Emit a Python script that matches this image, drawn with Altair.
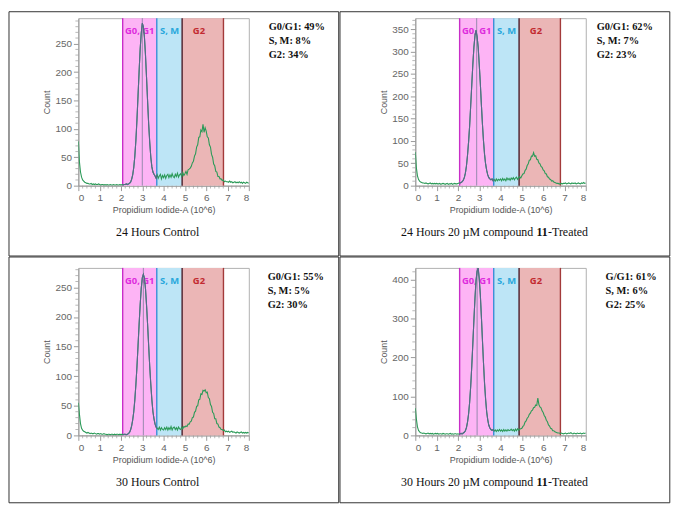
import altair as alt
import pandas as pd

# ---------------- data ----------------
x_grid = [round(i * 0.05, 2) for i in range(161)]

counts_24_control = (
    [78, 42, 24, 15, 10, 8, 6, 5, 4, 4, 3, 3, 4, 2, 3, 2, 3, 2, 2, 3]
    + [2, 1, 2, 2, 1, 2, 1, 2, 1, 1, 2, 1, 1, 2, 1, 1, 2, 1, 1, 2]
    + [1, 2, 1, 2, 2, 3, 2, 3, 4, 6, 11, 19, 32, 52, 80, 116, 158, 200, 240, 268]
    + [286, 280, 262, 230, 190, 148, 108, 76, 50, 33, 24, 20, 17, 13, 19, 13, 17, 20, 12, 18]
    + [14, 19, 13, 18, 20, 14, 19, 15, 21, 16, 14, 20, 16, 22, 15, 19, 21, 16, 23, 18]
    + [21, 25, 20, 28, 29, 31, 34, 40, 43, 52, 56, 68, 72, 85, 86, 98, 95, 108, 94, 102]
    + [96, 86, 84, 72, 68, 55, 50, 38, 35, 25, 24, 16, 16, 12, 12, 9, 10, 7, 8, 7]
    + [7, 6, 8, 6, 7, 5, 6, 7, 5, 6, 5, 7, 5, 6, 4, 6, 5, 4, 6, 5]
    + [4]
)
counts_24_treated = (
    [75, 40, 22, 14, 10, 8, 7, 6, 6, 5, 6, 5, 4, 5, 6, 4, 5, 4, 5, 4]
    + [5, 4, 4, 5, 3, 4, 5, 4, 3, 4, 5, 3, 4, 4, 5, 3, 4, 5, 4, 4]
    + [5, 6, 6, 7, 9, 12, 18, 28, 44, 68, 98, 134, 180, 226, 272, 310, 336, 348, 334, 310]
    + [272, 230, 182, 138, 100, 70, 48, 34, 24, 18, 15, 13, 15, 11, 14, 10, 15, 11, 14, 12]
    + [15, 11, 16, 12, 15, 11, 17, 13, 16, 12, 17, 14, 18, 13, 17, 19, 14, 18, 20, 17]
    + [22, 26, 27, 34, 37, 45, 49, 57, 58, 66, 66, 74, 66, 67, 59, 58, 51, 49, 43, 41]
    + [35, 33, 27, 26, 20, 19, 15, 14, 10, 11, 8, 7, 6, 5, 5, 4, 4, 5, 4, 5]
    + [5, 6, 4, 5, 6, 5, 4, 6, 5, 5, 6, 4, 5, 6, 5, 4, 6, 5, 7, 5]
    + [6]
)
counts_30_control = (
    [55, 36, 20, 12, 9, 7, 6, 5, 4, 5, 4, 3, 4, 3, 3, 4, 3, 2, 3, 3]
    + [2, 3, 2, 2, 3, 2, 2, 1, 2, 2, 1, 2, 2, 1, 2, 1, 2, 2, 1, 2]
    + [1, 2, 1, 2, 2, 1, 2, 3, 5, 9, 16, 26, 40, 60, 86, 116, 151, 187, 220, 248]
    + [266, 272, 266, 248, 220, 187, 151, 116, 86, 60, 40, 28, 19, 14, 12, 10, 14, 9, 13, 10]
    + [9, 13, 10, 14, 9, 13, 10, 15, 9, 13, 14, 10, 13, 9, 14, 11, 10, 14, 11, 15]
    + [14, 16, 15, 19, 19, 23, 24, 30, 31, 39, 41, 49, 50, 60, 61, 70, 69, 76, 75, 77]
    + [72, 73, 64, 62, 52, 49, 39, 37, 28, 28, 20, 19, 14, 13, 10, 10, 8, 9, 6, 7]
    + [6, 7, 5, 6, 7, 5, 6, 5, 4, 6, 5, 4, 5, 6, 4, 5, 4, 5, 4, 5]
    + [4]
)
counts_30_treated = (
    [70, 42, 22, 13, 9, 7, 6, 5, 6, 5, 4, 5, 6, 4, 5, 4, 5, 3, 4, 5]
    + [4, 5, 3, 4, 4, 3, 5, 4, 3, 4, 4, 3, 4, 5, 3, 4, 3, 4, 4, 3]
    + [4, 3, 4, 5, 4, 6, 8, 12, 20, 34, 55, 85, 127, 178, 236, 296, 352, 398, 421, 430]
    + [402, 362, 306, 245, 186, 133, 92, 60, 40, 26, 19, 15, 13, 15, 11, 14, 10, 14, 11, 15]
    + [11, 14, 10, 15, 11, 14, 11, 15, 12, 13, 16, 12, 15, 11, 16, 12, 17, 13, 16, 17]
    + [18, 23, 26, 34, 37, 44, 47, 54, 57, 63, 65, 71, 72, 78, 77, 96, 79, 73, 71, 63]
    + [59, 51, 47, 39, 35, 27, 24, 18, 17, 12, 12, 9, 8, 7, 6, 6, 5, 6, 5, 4]
    + [5, 6, 4, 5, 6, 5, 7, 5, 4, 6, 5, 4, 6, 5, 5, 6, 4, 5, 6, 5]
    + [6]
)
panel_counts = [counts_24_control, counts_24_treated, counts_30_control, counts_30_treated]

y_max = [295, 375, 283, 430]
y_major = [50, 50, 50, 100]
y_minor = [10, 10, 10, 20]
peak_marker = [3.0, 2.88, 3.05, 2.9]

gate_names = ["G0, G1", "S, M", "G2"]
gate_start = [2.08, 3.68, 4.87]
gate_end = [3.68, 4.87, 6.81]
gate_label_x = [2.88, 4.28, 5.66]
boundary_names = ["G0/G1 start", "S, M start", "G2 start", "G2 end"]
boundary_x = [2.08, 3.68, 4.87, 6.81]

x_major = list(range(0, 9))
x_minor = [round(i * 0.2, 1) for i in range(41) if i % 5 != 0]

stats = [
    ["G0/G1: 49%", "S, M: 8%", "G2: 34%"],
    ["G0/G1: 62%", "S, M: 7%", "G2: 23%"],
    ["G0/G1: 55%", "S, M: 5%", "G2: 30%"],
    ["G/G1: 61%", "S, M: 6%", "G2: 25%"],
]
captions = [
    ("24 Hours Control",),
    ("24 Hours 20 µM compound", "11", "-Treated"),
    ("30 Hours Control",),
    ("30 Hours 20 µM compound", "11", "-Treated"),
]

# ---------------- styles ----------------
W, H = 172, 169
gate_fills = ["#fdb4f5", "#bde5f6", "#ebb6b6"]
gate_label_colors = ["#dd2ddd", "#2aa8dc", "#c22a30"]
boundary_colors = ["#c82dc8", "#3a8ed6", "#4a1c28", "#a33a3a"]
green = "#2b9a58"
slate = "#55698a"
axis_grey = "#9a9a9a"
SERIF = "Liberation Serif"
SANS = "Liberation Sans"

stats_x = [192, 183, 191, 192]
# border box, relative to each plot area: (left, right, top, bottom)
boxes = [(-70, 262.7, -6.5, 240), (-76, 256.8, -6.5, 240),
         (-70, 262.7, -11, 237), (-76, 256.8, -11, 237)]

gates_df = pd.DataFrame({"gate": gate_names, "start": gate_start, "end": gate_end, "lx": gate_label_x})
bound_df = pd.DataFrame({"b": boundary_names, "bx": boundary_x})
xminor_df = pd.DataFrame({"tx": x_minor})
one = pd.DataFrame({"k": [0]})


def panel(i):
    df = pd.DataFrame({"x": x_grid, "y": panel_counts[i]})
    xs = alt.Scale(domain=[0, 8], nice=False, zero=False)
    ys = alt.Scale(domain=[0, y_max[i]], nice=False)
    maj, mnr = y_major[i], y_minor[i]
    y_major_vals = list(range(0, y_max[i] + 1, maj))
    y_minor_vals = [v for v in range(0, y_max[i] + 1, mnr) if v % maj != 0]
    x_axis = alt.Axis(values=x_major, format="d", tickSize=5,
                      title="Propidium Iodide-A (10^6)", titlePadding=3, labelPadding=2)
    y_axis = alt.Axis(values=y_major_vals, format="d", tickSize=5,
                      title="Count", titlePadding=3, labelPadding=2)

    rects = alt.Chart(gates_df).mark_rect().encode(
        x=alt.X("start:Q", scale=xs, axis=x_axis),
        x2="end:Q",
        y=alt.value(0), y2=alt.value(H),
        fill=alt.Fill("gate:N", scale=alt.Scale(domain=gate_names, range=gate_fills), legend=None),
    )
    labels = alt.Chart(gates_df).mark_text(font="Open Sans", fontWeight="bold", fontSize=9.5).encode(
        x=alt.X("lx:Q", scale=xs, axis=x_axis),
        y=alt.value(13),
        text="gate:N",
        color=alt.Color("gate:N", scale=alt.Scale(domain=gate_names, range=gate_label_colors), legend=None),
    )
    rules = alt.Chart(bound_df).mark_rule(strokeWidth=1.4).encode(
        x=alt.X("bx:Q", scale=xs, axis=x_axis),
        stroke=alt.Stroke("b:N", scale=alt.Scale(domain=boundary_names, range=boundary_colors), legend=None),
    )
    marker = alt.Chart(pd.DataFrame({"m": [peak_marker[i]]})).mark_rule(
        color="#7c7f9a", strokeWidth=0.8).encode(x=alt.X("m:Q", scale=xs, axis=x_axis))
    line = alt.Chart(df).mark_line(color=green, strokeWidth=1.1, clip=True).encode(
        x=alt.X("x:Q", scale=xs, axis=x_axis),
        y=alt.Y("y:Q", scale=ys, axis=y_axis),
    )
    line_g1 = alt.Chart(df).mark_line(color=slate, strokeWidth=1.1, clip=True).encode(
        x=alt.X("x:Q", scale=xs, axis=x_axis),
        y=alt.Y("y:Q", scale=ys, axis=y_axis),
    ).transform_filter("datum.x >= 2.1 && datum.x <= 3.7")

    # minor ticks
    xminor = alt.Chart(xminor_df).mark_tick(orient="vertical", size=3, thickness=1, color=axis_grey).encode(
        x=alt.X("tx:Q", scale=xs, axis=x_axis), y=alt.value(H + 1.5))
    yminor = alt.Chart(pd.DataFrame({"ty": y_minor_vals})).mark_tick(
        orient="horizontal", size=3, thickness=1, color=axis_grey).encode(
        y=alt.Y("ty:Q", scale=ys, axis=y_axis), x=alt.value(-1.5))

    stat_text = alt.Chart(one).mark_text(
        align="left", baseline="top", font=SERIF, fontWeight="bold", fontSize=10.5,
        lineHeight=14, color="#111").encode(
        x=alt.value(stats_x[i]), y=alt.value(4), text=alt.value(stats[i]))

    cap = captions[i]
    cap_y = H + 47
    if len(cap) == 1:
        cap_layers = [alt.Chart(one).mark_text(font=SERIF, fontSize=12, color="#111", baseline="middle").encode(
            x=alt.value(80), y=alt.value(cap_y), text=alt.value(cap[0]))]
    else:
        cap_layers = [
            alt.Chart(one).mark_text(font=SERIF, fontSize=12, color="#111", baseline="middle", align="right").encode(
                x=alt.value(119), y=alt.value(cap_y), text=alt.value(cap[0])),
            alt.Chart(one).mark_text(font=SERIF, fontSize=12, fontWeight="bold", color="#111", baseline="middle", align="center").encode(
                x=alt.value(128), y=alt.value(cap_y), text=alt.value(cap[1])),
            alt.Chart(one).mark_text(font=SERIF, fontSize=12, color="#111", baseline="middle", align="left").encode(
                x=alt.value(134), y=alt.value(cap_y), text=alt.value(cap[2])),
        ]
    L, R, T, B = boxes[i]
    box = alt.Chart(one).mark_rect(fillOpacity=0, stroke="#333", strokeWidth=1).encode(
        x=alt.value(L), x2=alt.value(R), y=alt.value(T), y2=alt.value(B))

    return alt.layer(rects, labels, rules, marker, line, line_g1, xminor, yminor,
                     stat_text, *cap_layers, box).properties(width=W, height=H)


top = alt.hconcat(panel(0), panel(1), spacing=-1)
bottom = alt.hconcat(panel(2), panel(3), spacing=-1)
chart = alt.vconcat(top, bottom, spacing=-1, padding=0).configure_view(
    stroke="#b0b0b0"
).configure_axis(
    grid=False, domainColor=axis_grey, tickColor=axis_grey, labelColor="#666666",
    labelFont=SANS, labelFontSize=10, titleFont=SANS, titleFontSize=9,
    titleColor="#555555", titleFontWeight="normal",
)

chart.save("out.html", embed_options={"renderer": "svg", "actions": False})
